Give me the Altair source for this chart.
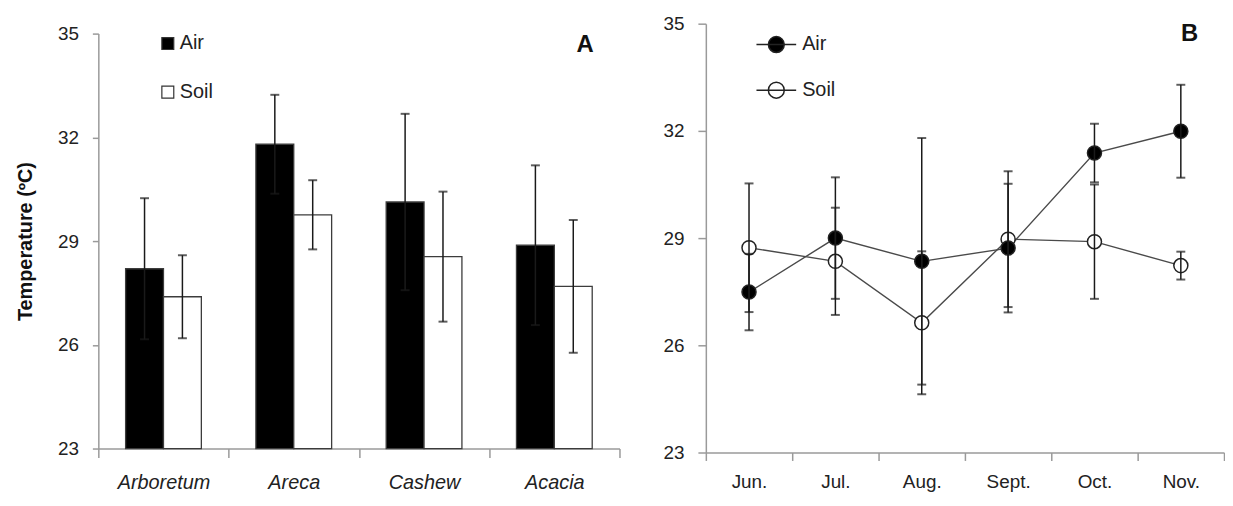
import altair as alt
import pandas as pd

# ---------------- data ----------------
sites = ["Arboretum", "Areca", "Cashew", "Acacia"]
site_air = [28.2, 31.8, 30.13, 28.88]
site_air_err = [2.04, 1.43, 2.55, 2.31]
site_soil = [27.39, 29.76, 28.55, 27.69]
site_soil_err = [1.2, 1.0, 1.88, 1.92]

months = ["Jun.", "Jul.", "Aug.", "Sept.", "Oct.", "Nov."]
month_air = [27.49, 29.0, 28.35, 28.72, 31.38, 31.99]
month_air_err = [1.07, 1.7, 3.45, 1.8, 0.82, 1.3]
month_soil = [28.73, 28.35, 26.63, 28.97, 28.9, 28.23]
month_soil_err = [1.8, 1.5, 2.0, 1.9, 1.6, 0.39]

series = ["Air", "Soil"]
y_ticks = [23, 26, 29, 32, 35]


def long_frame(key, cats, groups):
    rows = []
    for s, vals, errs in groups:
        for c, v, e in zip(cats, vals, errs):
            rows.append({key: c, "series": s, "value": v,
                         "lo": round(v - e, 3), "hi": round(v + e, 3),
                         "base": y_ticks[0]})
    return pd.DataFrame(rows)


dfA = long_frame("site", sites, [("Air", site_air, site_air_err),
                                 ("Soil", site_soil, site_soil_err)])
dfB = long_frame("month", months, [("Soil", month_soil, month_soil_err),
                                   ("Air", month_air, month_air_err)])

# ---------------- styles ----------------
NARROW = "Liberation Sans Narrow, Arial Narrow, Liberation Sans, Arial, sans-serif"
BOLD = "Liberation Sans, Arial, sans-serif"
AX = "#9a9a9a"


def axis(**kw):
    base = dict(domainColor=AX, domainWidth=1.5, tickColor=AX, tickWidth=1.5,
                grid=False, labelFont=NARROW, labelColor="#222",
                labelFontSize=19)
    base.update(kw)
    return alt.Axis(**base)


fill_scale = alt.Scale(domain=series, range=["#000000", "#ffffff"])

# ---------------- panel A ----------------
A_H = 428
yA_scale = alt.Scale(domain=[y_ticks[0], y_ticks[-1]], nice=False, zero=False,
                     range=[A_H, 10])
yA_axis = axis(values=y_ticks, title="Temperature (ºC)", titleFont=BOLD,
               titleFontSize=20, titleFontWeight="bold", titleColor="#111",
               titlePadding=22, tickSize=6, labelPadding=14)
xA_axis = axis(title=None, labelAngle=0, labelFontStyle="italic",
               labelFontSize=20, tickBand="extent", tickSize=9, labelPadding=15)

xA = alt.X("site:N", sort=sites, scale=alt.Scale(paddingInner=0, paddingOuter=0),
           axis=xA_axis)
xoA = alt.XOffset("series:N", sort=series,
                  scale=alt.Scale(paddingInner=0, paddingOuter=0.72))

legendA = alt.Legend(title=None, orient="none", legendX=60, legendY=10,
                     direction="vertical", symbolType="square",
                     symbolSize=144, symbolStrokeColor="#333",
                     symbolStrokeWidth=1.2, labelFont=NARROW, labelFontSize=20,
                     labelColor="#222", labelOffset=2, rowPadding=29)

baseA = alt.Chart(dfA)
barsA = baseA.mark_bar(stroke="#3c3c3c", strokeWidth=1.3).encode(
    x=xA, xOffset=xoA,
    y=alt.Y("value:Q", scale=yA_scale, axis=yA_axis),
    y2="base:Q",
    fill=alt.Fill("series:N", sort=series, scale=fill_scale, legend=legendA),
)
errA = baseA.mark_rule(color="#1a1a1a", strokeWidth=1.5).encode(
    x=xA, xOffset=xoA,
    y=alt.Y("lo:Q", scale=yA_scale, axis=yA_axis), y2="hi:Q")
capHiA = baseA.mark_tick(color="#1a1a1a", size=9, thickness=2,
                         orient="horizontal").encode(
    x=xA, xOffset=xoA, y=alt.Y("hi:Q", scale=yA_scale, axis=yA_axis))
capLoA = baseA.mark_tick(color="#1a1a1a", size=9, thickness=2,
                         orient="horizontal").encode(
    x=xA, xOffset=xoA, y=alt.Y("lo:Q", scale=yA_scale, axis=yA_axis))

panelA = alt.layer(barsA, errA, capHiA, capLoA).properties(
    width=525, height=A_H,
    title=alt.TitleParams("A", anchor="end", frame="group", orient="top",
                          baseline="top", offset=-22, dx=-26, dy=12, font=BOLD,
                          fontSize=24, fontWeight="bold", color="#111"),
)

# ---------------- panel B ----------------
yB_scale = alt.Scale(domain=[y_ticks[0], y_ticks[-1]], nice=False, zero=False)
yB_axis = axis(values=y_ticks, title=None, tickSize=8, labelPadding=14)
xB_axis = axis(title=None, labelAngle=0, labelFontSize=19, tickBand="extent",
               tickSize=8, labelPadding=12)
xB = alt.X("month:N", sort=months, scale=alt.Scale(paddingInner=0, paddingOuter=0),
           axis=xB_axis)

LEG_PATH = ("M -1 0 L 1 0 M -0.4 0 A 0.4 0.4 0 1 1 0.4 0 "
            "A 0.4 0.4 0 1 1 -0.4 0 Z")
legendB = alt.Legend(title=None, orient="none", legendX=50, legendY=0,
                     direction="vertical", symbolType=LEG_PATH, symbolSize=1600,
                     symbolStrokeColor="#222", symbolStrokeWidth=1.5,
                     labelFont=NARROW, labelFontSize=20, labelColor="#222",
                     labelOffset=5, rowPadding=14)

baseB = alt.Chart(dfB)
linesB = baseB.mark_line(color="#4a4a4a", strokeWidth=1.4).encode(
    x=xB, y=alt.Y("value:Q", scale=yB_scale, axis=yB_axis), detail="series:N")
pointsB = baseB.mark_point(filled=True, size=200, stroke="#222", strokeWidth=1.5,
                           opacity=1).encode(
    x=xB, y=alt.Y("value:Q", scale=yB_scale, axis=yB_axis),
    fill=alt.Fill("series:N", sort=series, scale=fill_scale, legend=legendB))
errB = baseB.mark_rule(color="#1a1a1a", strokeWidth=1.5).encode(
    x=xB, y=alt.Y("lo:Q", scale=yB_scale, axis=yB_axis), y2="hi:Q")
capHiB = baseB.mark_tick(color="#1a1a1a", size=9, thickness=2,
                         orient="horizontal").encode(
    x=xB, y=alt.Y("hi:Q", scale=yB_scale, axis=yB_axis))
capLoB = baseB.mark_tick(color="#1a1a1a", size=9, thickness=2,
                         orient="horizontal").encode(
    x=xB, y=alt.Y("lo:Q", scale=yB_scale, axis=yB_axis))

panelB = alt.layer(linesB, pointsB, errB, capHiB, capLoB).properties(
    width=522, height=432,
    title=alt.TitleParams("B", anchor="end", frame="group", orient="top",
                          baseline="top", offset=-26, dx=-26, dy=5, font=BOLD,
                          fontSize=24, fontWeight="bold", color="#111"),
)

chart = alt.hconcat(panelA, panelB, spacing=42).resolve_scale(
    fill="independent").resolve_legend(fill="independent").configure_view(
    stroke=None).properties(
    padding={"left": 7, "top": 5, "right": 0, "bottom": 0})

chart.save("out.html", embed_options={"renderer": "svg", "actions": False})
